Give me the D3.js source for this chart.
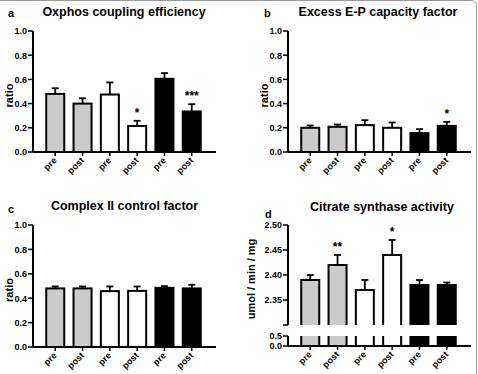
<!DOCTYPE html>
<html>
<head>
<meta charset="utf-8">
<script src="https://cdn.jsdelivr.net/npm/d3@7"></script>
<style>
  body { margin: 0; background: #fff; }
  svg text { font-family: Arial, "Liberation Sans", Helvetica, sans-serif; font-weight: bold; }
</style>
</head>
<body>
<div id="chart"></div>
<script>
// categories, same for every panel
var categories = ['pre', 'post', 'pre', 'post', 'pre', 'post'];

// a - oxphos coupling efficiency
var oxphos = [0.48, 0.40, 0.475, 0.215, 0.605, 0.335];
var oxphos_err = [0.047, 0.044, 0.10, 0.043, 0.047, 0.06];
var oxphos_sig = ['', '', '', '*', '', '***'];

// b - excess E-P capacity factor
var excess = [0.20, 0.208, 0.222, 0.20, 0.156, 0.216];
var excess_err = [0.019, 0.019, 0.041, 0.044, 0.033, 0.033];
var excess_sig = ['', '', '', '', '', '*'];

// c - complex II control factor
var complex2 = [0.48, 0.48, 0.458, 0.46, 0.485, 0.48];
var complex2_err = [0.016, 0.016, 0.038, 0.036, 0.014, 0.03];
var complex2_sig = ['', '', '', '', '', ''];

// d - citrate synthase activity
var citrate = [2.39, 2.42, 2.37, 2.44, 2.38, 2.38];
var citrate_err = [0.01, 0.02, 0.02, 0.03, 0.01, 0.005];
var citrate_sig = ['', '**', '', '*', '', ''];

var ratio_ticks = [0, 0.2, 0.4, 0.6, 0.8, 1.0];
var citrate_ticks_upper = [2.35, 2.40, 2.45, 2.50];
var citrate_ticks_lower = [0, 0.5];

// group colours (gray / white / black)
var fills = ['#cbcbcb', '#cbcbcb', '#ffffff', '#ffffff', '#000000', '#000000'];

var width = 478;
var height = 374;
var axis_len = 183;

var svg = d3.select('#chart')
  .append('svg')
  .attr('width', width)
  .attr('height', height);

// thin frame, only top and right edge visible
svg.append('rect')
  .attr('x', -10).attr('y', 0.5)
  .attr('width', width - 1.5 + 10).attr('height', height + 20)
  .attr('rx', 5)
  .attr('fill', 'none')
  .attr('stroke', '#9a9a9a')
  .attr('stroke-width', 1);

var x_scale = d3.scaleBand()
  .domain(d3.range(categories.length))
  .range([0, 181])
  .paddingInner(0.267)
  .paddingOuter(0.448);

function header(g, letter, lx, ly, title, tx, ty) {
  g.append('text').attr('x', lx).attr('y', ly)
    .attr('font-size', 11).text(letter);
  g.append('text').attr('x', tx).attr('y', ty)
    .attr('font-size', 12.5).attr('text-anchor', 'middle').text(title);
}

function xAxis(g, y0) {
  g.append('line')
    .attr('x1', 0).attr('x2', axis_len)
    .attr('y1', y0).attr('y2', y0)
    .attr('stroke', '#000').attr('stroke-width', 2);
  categories.forEach(function(c, i) {
    var cx = x_scale(i) + x_scale.bandwidth() / 2;
    g.append('line')
      .attr('x1', cx).attr('x2', cx)
      .attr('y1', y0).attr('y2', y0 + 4)
      .attr('stroke', '#000').attr('stroke-width', 1.5);
    g.append('text')
      .attr('transform', 'translate(' + (cx + 2) + ',' + (y0 + 9) + ') rotate(-45)')
      .attr('text-anchor', 'end')
      .attr('font-size', 9)
      .text(c);
  });
}

function yAxis(g, scale, ticks, fmt, y1, y2) {
  g.append('line')
    .attr('x1', 0).attr('x2', 0)
    .attr('y1', y1).attr('y2', y2)
    .attr('stroke', '#000').attr('stroke-width', 2);
  ticks.forEach(function(t) {
    g.append('line')
      .attr('x1', -5).attr('x2', 0)
      .attr('y1', scale(t)).attr('y2', scale(t))
      .attr('stroke', '#000').attr('stroke-width', 1.5);
    g.append('text')
      .attr('x', -6).attr('y', scale(t) + 3.3)
      .attr('text-anchor', 'end')
      .attr('font-size', 9)
      .text(fmt(t));
  });
}

function bars(g, scale, values, errs, sig, base) {
  values.forEach(function(v, i) {
    var bx = x_scale(i);
    var bw = x_scale.bandwidth();
    var cx = bx + bw / 2;
    var top = scale(v + errs[i]);
    g.append('line')
      .attr('x1', cx).attr('x2', cx)
      .attr('y1', scale(v)).attr('y2', top)
      .attr('stroke', '#000').attr('stroke-width', 1.8);
    g.append('line')
      .attr('x1', cx - 3.5).attr('x2', cx + 3.5)
      .attr('y1', top).attr('y2', top)
      .attr('stroke', '#000').attr('stroke-width', 1.8);
    g.append('rect')
      .attr('x', bx + 1).attr('y', scale(v))
      .attr('width', bw - 2).attr('height', base - scale(v))
      .attr('fill', fills[i])
      .attr('stroke', '#000').attr('stroke-width', 2);
    if (sig[i]) {
      g.append('text')
        .attr('x', cx).attr('y', top - 4)
        .attr('text-anchor', 'middle')
        .attr('font-size', 12)
        .text(sig[i]);
    }
  });
}

function yLabel(g, text, x, y) {
  g.append('text')
    .attr('transform', 'translate(' + x + ',' + y + ') rotate(-90)')
    .attr('text-anchor', 'middle')
    .attr('font-size', 11)
    .text(text);
}

// ratio panels a, b, c
function ratioPanel(left, top, bottom, values, errs, sig) {
  var y_scale = d3.scaleLinear().domain([0, 1]).range([bottom, top]);
  var g = svg.append('g').attr('transform', 'translate(' + left + ',0)');
  bars(g, y_scale, values, errs, sig, bottom);
  yAxis(g, y_scale, ratio_ticks, d3.format('.1f'), top, bottom);
  xAxis(g, bottom);
  yLabel(g, 'ratio', -20, (top + bottom) / 2 + 4);
  return g;
}

var ga = ratioPanel(33, 31, 152, oxphos, oxphos_err, oxphos_sig);
header(svg, 'a', 8, 17, 'Oxphos coupling efficiency', 124, 16);

var gb = ratioPanel(288, 31, 152, excess, excess_err, excess_sig);
header(svg, 'b', 264, 17, 'Excess E-P capacity factor', 378, 16);

var gc = ratioPanel(33, 225, 347, complex2, complex2_err, complex2_sig);
header(svg, 'c', 8, 213, 'Complex II control factor', 124.5, 210);

// d - broken y axis
var up_top = 225, up_bot = 325, lo_top = 336, lo_bot = 346;
var y_up = d3.scaleLinear().domain([2.30, 2.50]).range([up_bot, up_top]);
var y_lo = d3.scaleLinear().domain([0, 0.5]).range([lo_bot, lo_top]);

var gd = svg.append('g').attr('transform', 'translate(288,0)');
var defs = svg.append('defs');
defs.append('clipPath').attr('id', 'clip-up')
  .append('rect').attr('x', -5).attr('y', 0).attr('width', 200).attr('height', up_bot);
defs.append('clipPath').attr('id', 'clip-lo')
  .append('rect').attr('x', -5).attr('y', lo_top).attr('width', 200).attr('height', 40);

var gd_up = gd.append('g').attr('clip-path', 'url(#clip-up)');
bars(gd_up, y_up, citrate, citrate_err, citrate_sig, up_bot + 6);

// lower segment: bars run through the whole 0 - 0.5 range
var gd_lo = gd.append('g').attr('clip-path', 'url(#clip-lo)');
citrate.forEach(function(v, i) {
  gd_lo.append('rect')
    .attr('x', x_scale(i) + 1).attr('y', lo_top - 6)
    .attr('width', x_scale.bandwidth() - 2).attr('height', lo_bot - lo_top + 6)
    .attr('fill', fills[i])
    .attr('stroke', '#000').attr('stroke-width', 2);
});

yAxis(gd, y_up, citrate_ticks_upper, d3.format('.2f'), up_top, up_bot);
gd.append('line')
  .attr('x1', -5).attr('x2', 0)
  .attr('y1', up_bot).attr('y2', up_bot)
  .attr('stroke', '#000').attr('stroke-width', 1.5);
yAxis(gd, y_lo, citrate_ticks_lower, d3.format('.1f'), lo_top, lo_bot);
xAxis(gd, lo_bot);
yLabel(gd, 'umol / min / mg', -33, 279);
header(svg, 'd', 265, 218, 'Citrate synthase activity', 382, 211);
</script>
</body>
</html>
